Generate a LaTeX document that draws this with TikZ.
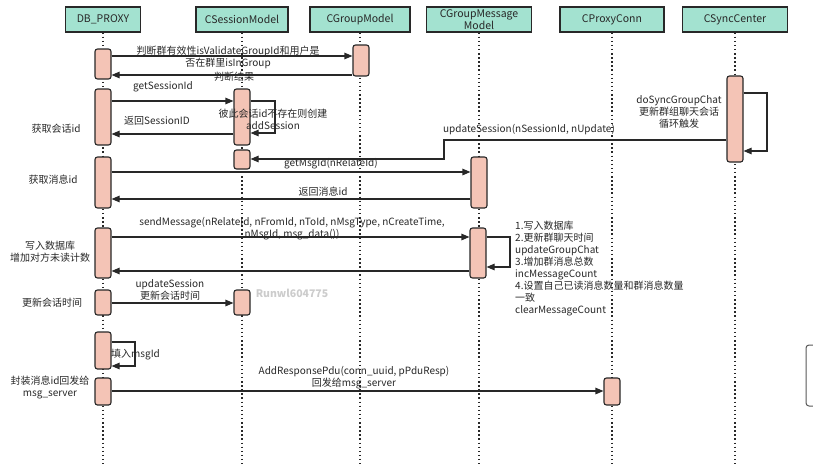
\documentclass[tikz,border=0pt]{standalone}
\usepackage{fontspec}
\setmainfont{Noto Sans CJK SC}
\usetikzlibrary{arrows.meta}
\definecolor{hdrfill}{RGB}{163,226,208}
\definecolor{actfill}{RGB}{244,196,182}
\definecolor{ink}{RGB}{40,40,40}
\begin{document}
\begin{tikzpicture}[x=1pt,y=-1pt,
 hdr/.style={draw=ink, line width=1.1pt, fill=hdrfill, minimum height=25pt, inner sep=0pt, font=\fontsize{10.5}{11.5}\selectfont, align=center, text=ink},
 act/.style={draw=ink, line width=1.1pt, fill=actfill, rounded corners=2.5pt, minimum width=16pt, inner sep=0pt},
 life/.style={ink, line width=1.6pt, dash pattern=on 1.5pt off 2.6pt},
 msg/.style={ink, line width=1.1pt, -{Triangle[length=8pt,width=6.5pt]}},
 lbl/.style={font=\fontsize{10}{12}\selectfont, align=center, inner sep=0pt, text=ink},
 note/.style={font=\fontsize{10}{12}\selectfont, align=left, inner sep=0pt, text=ink},
]
\useasboundingbox[fill=white] (0,0) rectangle (813,464);

% headers
\node[hdr, minimum width=75pt]  (h1) at (103,19.5) {DB\_PROXY};
\node[hdr, minimum width=92pt]  (h2) at (242,19.5) {CSessionModel};
\node[hdr, minimum width=100pt] (h3) at (360,19.5) {CGroupModel};
\node[hdr, minimum width=105pt] (h4) at (479,19.5) {CGroupMessage\\Model};
\node[hdr, minimum width=104pt] (h5) at (612,19.5) {CProxyConn};
\node[hdr, minimum width=105pt] (h6) at (735,19.5) {CSyncCenter};

% lifelines
\foreach \h in {h1,h2,h3,h4,h5,h6}
  \draw[life] (\h.south) -- (\h.south |- 0,464);

% activations
\node[act, minimum height=30pt] (a1) at (103,64) {};
\node[act, minimum height=56pt] (a2) at (103,117) {};
\node[act, minimum height=51pt] (a3) at (103,182.5) {};
\node[act, minimum height=50pt] (a4) at (103,253) {};
\node[act, minimum height=25pt] (a5) at (103,302.5) {};
\node[act, minimum height=37pt] (a6) at (103,350.5) {};
\node[act, minimum height=27pt] (a7) at (103,391.5) {};
\node[act, minimum height=56pt] (b1) at (242,117) {};
\node[act, minimum height=19pt] (b2) at (242,159.5) {};
\node[act, minimum height=25pt] (b3) at (242,302.5) {};
\node[act, minimum height=31pt] (c1) at (361,60.5) {};
\node[act, minimum height=51pt] (d1) at (479,182.5) {};
\node[act, minimum height=50pt] (d2) at (478,253) {};
\node[act, minimum height=27pt] (e1) at (612,391.5) {};
\node[act, minimum height=86pt] (f1) at (735,119) {};

% messages
\draw[msg] (a1.east |- 0,56) -- (c1.west |- 0,56);
\node[lbl] (m1) at (228,57) {判断群有效性isValidateGroupId和用户是\\否在群里isInGroup};
\draw[msg] (c1.west |- 0,75) -- (a1.east |- 0,75);
\node[lbl] (m2) at (234,77) {判断结果};

\draw[msg] (a2.east |- 0,101) -- (b1.west |- 0,101);
\node[lbl] (m3) at (163,87) {getSessionId};
\draw[msg] (b1.east |- 0,101) -- (275,101) -- (275,133) -- (b1.east |- 0,133);
\node[lbl] (m4) at (273,119) {彼此会话id不存在则创建\\addSession};
\draw[msg] (b1.west |- 0,134) -- (a2.east |- 0,134);
\node[lbl] (m5) at (157,121) {返回SessionID};
\node[lbl] (s1) at (56,129) {获取会话id};

\draw[msg] (f1.east |- 0,93) -- (767,93) -- (767,151) -- (f1.east |- 0,151);
\node[lbl] (m7) at (679,112) {doSyncGroupChat\\更新群组聊天会话\\循环触发};
\draw[msg] (f1.west |- 0,140) -- (444,140) -- (444,159) -- (b2.east |- 0,159);
\node[lbl] (m6) at (529,130) {updateSession(nSessionId, nUpdate)};

\draw[msg] (a3.east |- 0,172) -- (d1.west |- 0,172);
\node[lbl] (m8) at (331,164) {getMsgId(nRelateId)};
\draw[msg] (d1.west |- 0,199) -- (a3.east |- 0,199);
\node[lbl] (m9) at (323,192) {返回消息id};
\node[lbl] (s2) at (53,180) {获取消息id};

\draw[msg] (a4.east |- 0,237) -- (d2.west |- 0,237);
\node[lbl] (m10) at (292,229) {sendMessage(nRelateId, nFromId, nToId, nMsgType, nCreateTime,\\nMsgId, msg\_data())};
\draw[msg] (d2.west |- 0,271) -- (a4.east |- 0,271);
\draw[msg] (d2.east |- 0,237) -- (510,237) -- (510,267) -- (d2.east |- 0,267);
\node[note, anchor=north west] (m12) at (515,221) {1.写入数据库\\2.更新群聊天时间\\updateGroupChat\\3.增加群消息总数\\incMessageCount\\4.设置自己已读消息数量和群消息数量\\一致\\clearMessageCount};
\node[lbl] (s3) at (50,252) {写入数据库\\增加对方未读计数};

\draw[msg] (a5.east |- 0,303) -- (b3.west |- 0,303);
\node[lbl] (m13) at (170,290) {updateSession\\更新会话时间};
\node[lbl] (s4) at (52,303) {更新会话时间};

\draw[msg] (a6.east |- 0,342) -- (135,342) -- (135,366) -- (a6.east |- 0,366);
\node[lbl, anchor=west] (m14) at (111,355) {填入msgId};

\draw[msg] (a7.east |- 0,391) -- (e1.west |- 0,391);
\node[lbl] (m15) at (354,378) {AddResponsePdu(conn\_uuid, pPduResp)\\回发给msg\_server};
\node[lbl] (s5) at (50,387) {封装消息id回发给\\msg\_server};

% watermark
\node[font=\bfseries\fontsize{10.5}{12}\selectfont, text=gray!40] (wm) at (292,293) {Runwl604775};

% edge artefact
\draw[gray!70!black, line width=1pt, rounded corners=3pt] (806,345) rectangle (826,406);
\end{tikzpicture}
\end{document}
